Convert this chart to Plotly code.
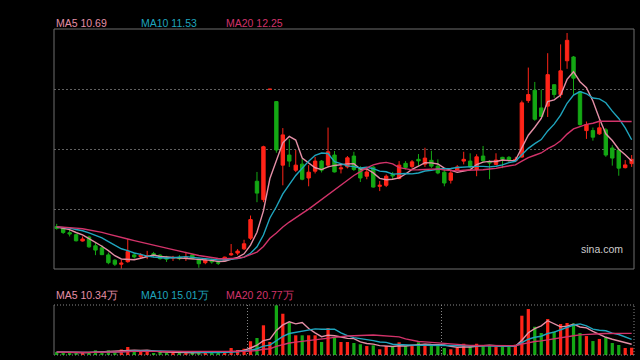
import plotly.graph_objects as go
import pandas as pd

# ---- data (price in CNY, volume in 万) ----
opens = [8.05, 7.98, 7.81, 7.73, 7.48, 7.64, 7.29, 7.21, 6.93, 6.72,
         6.56, 6.66, 6.93, 6.86, 6.86, 6.98, 6.92, 6.84, 6.81, 6.84,
         6.81, 6.93, 6.76, 6.62, 6.72, 6.62, 6.69, 6.93, 7.00, 7.17,
         7.59, 9.85, 9.12, 13.50, 13.01, 10.49, 10.89, 10.29, 10.53, 9.98,
         10.25, 10.65, 10.49, 10.89, 10.34, 10.42, 10.85, 10.36, 10.05, 10.41,
         9.65, 9.69, 10.12, 9.96, 10.56, 10.44, 10.72, 10.53, 10.68, 10.45,
         10.21, 9.89, 10.29, 10.65, 10.65, 10.32, 10.85, 10.62, 10.52, 10.80,
         10.80, 10.66, 10.81, 13.05, 13.46, 12.76, 12.83, 13.68, 13.29, 14.63,
         14.78, 13.40, 11.86, 11.86, 11.73, 11.89, 11.17, 11.09, 10.39, 10.55]
highs = [8.16, 8.02, 7.92, 7.76, 7.66, 7.69, 7.42, 7.32, 7.02, 6.76,
         6.73, 7.56, 7.02, 7.00, 7.09, 7.05, 6.96, 6.89, 6.89, 6.92,
         7.05, 6.97, 6.78, 6.78, 6.78, 6.69, 6.86, 7.36, 7.16, 7.53,
         8.49, 10.22, 11.26, 13.50, 13.03, 11.96, 11.52, 11.09, 10.73, 10.49,
         10.82, 10.69, 11.98, 11.05, 10.56, 10.85, 11.02, 10.45, 10.40, 10.45,
         9.86, 10.12, 10.22, 10.65, 10.65, 10.69, 10.93, 11.18, 11.06, 10.72,
         10.36, 10.26, 10.49, 11.02, 10.96, 10.92, 11.25, 10.69, 10.96, 10.82,
         10.85, 10.82, 13.05, 14.36, 13.79, 13.49, 14.93, 13.69, 15.28, 15.73,
         14.82, 13.42, 12.22, 11.98, 12.29, 11.96, 11.28, 11.11, 10.69, 10.89]
lows = [7.93, 7.76, 7.66, 7.46, 7.46, 7.21, 6.92, 6.92, 6.56, 6.49,
        6.38, 6.62, 6.78, 6.78, 6.76, 6.82, 6.74, 6.65, 6.69, 6.72,
        6.69, 6.76, 6.42, 6.56, 6.58, 6.53, 6.66, 6.89, 6.92, 7.12,
        7.52, 9.02, 9.02, 13.50, 10.98, 9.69, 10.42, 10.22, 9.89, 9.65,
        10.16, 10.20, 10.40, 10.20, 10.16, 10.36, 10.26, 9.82, 9.93, 9.60,
        9.46, 9.62, 9.92, 9.93, 10.32, 10.36, 10.45, 10.42, 10.38, 10.13,
        9.65, 9.76, 10.26, 10.52, 10.36, 10.05, 10.60, 9.93, 10.49, 10.37,
        10.62, 10.62, 10.79, 12.96, 12.25, 12.40, 12.40, 13.16, 13.16, 14.31,
        13.25, 12.05, 11.53, 11.46, 11.69, 10.82, 10.47, 10.07, 10.36, 10.42]
closes = [7.98, 7.82, 7.76, 7.49, 7.56, 7.25, 7.12, 6.94, 6.62, 6.56,
          6.60, 7.06, 6.85, 6.92, 6.89, 6.90, 6.78, 6.76, 6.82, 6.78,
          6.83, 6.78, 6.58, 6.73, 6.65, 6.60, 6.84, 6.97, 7.08, 7.37,
          8.33, 9.38, 11.22, 13.50, 11.09, 11.69, 10.65, 10.49, 9.93, 10.21,
          10.65, 10.29, 11.02, 10.22, 10.38, 10.78, 10.32, 9.98, 10.22, 9.62,
          9.69, 10.05, 10.06, 10.49, 10.40, 10.62, 10.66, 10.77, 10.45, 10.18,
          9.78, 10.18, 10.42, 10.72, 10.42, 10.82, 10.66, 10.58, 10.69, 10.72,
          10.69, 10.72, 12.96, 13.29, 12.31, 12.42, 14.08, 13.29, 14.23, 15.44,
          13.94, 12.10, 12.10, 11.60, 11.97, 10.89, 10.77, 10.37, 10.50, 10.72]
volumes = [2.9, 2.4, 1.9, 2.9, 1.9, 2.9, 4.5, 2.4, 4.5, 2.9,
           5.3, 7.7, 2.9, 3.6, 3.6, 1.9, 2.9, 1.9, 1.9, 1.9,
           2.9, 2.4, 3.4, 2.9, 1.9, 1.9, 2.9, 6.7, 4.8, 6.0,
           13.2, 16.3, 28.5, 12.5, 47.7, 39.6, 30.7, 18.9, 18.9, 18.9,
           18.9, 12.5, 25.9, 16.3, 12.5, 12.5, 11.5, 10.3, 8.6, 9.3,
           5.5, 8.6, 8.6, 12.2, 8.6, 8.6, 12.2, 10.8, 9.9, 8.6,
           6.7, 5.5, 6.7, 10.8, 8.4, 10.8, 8.6, 8.6, 7.7, 7.7,
           7.7, 9.9, 37.7, 44.1, 27.1, 21.1, 34.5, 22.6, 29.7, 30.7,
           30.3, 21.1, 18.2, 13.4, 15.4, 16.9, 11.5, 9.6, 6.7, 7.0]
prior_closes = [8.06, 8.04, 8.09, 8.05, 8.03, 8.07, 8.06, 8.02, 8.05, 8.08,
                8.04, 8.06, 8.03, 8.05, 8.07, 8.04, 8.06, 8.05, 8.04]
month_starts = [30, 60]
price_labels = ["MA5 10.69", "MA10 11.53", "MA20 12.25"]
volume_labels = ["MA5 10.34万", "MA10 15.01万", "MA20 20.77万"]

RED = "#ff2418"
GREEN = "#14a814"
MA_COLORS = ["#e48fa6", "#1fa5be", "#d2336a"]
MA_N = [5, 10, 20]

idx = list(range(len(closes)))
s = pd.Series(prior_closes + closes)
price_ma = [s.rolling(n, min_periods=1).mean().iloc[len(prior_closes):].tolist() for n in MA_N]
vs = pd.Series(volumes)
vol_ma = [vs.rolling(n, min_periods=1).mean().tolist() for n in MA_N]

bar_colors = []
for i, (o, c) in enumerate(zip(opens, closes)):
    prev = closes[i - 1] if i > 0 else c
    up = c > o or (c == o and c >= prev)
    bar_colors.append(RED if up else GREEN)

fig = go.Figure()
fig.add_trace(go.Candlestick(
    x=idx, open=opens, high=highs, low=lows, close=closes,
    increasing=dict(line=dict(color=RED, width=1), fillcolor=RED),
    decreasing=dict(line=dict(color=GREEN, width=1), fillcolor=GREEN),
    whiskerwidth=0, hoverinfo="skip", xaxis="x", yaxis="y"))
for vals, col in zip(price_ma, MA_COLORS):
    fig.add_trace(go.Scatter(x=idx, y=vals, mode="lines",
                             line=dict(color=col, width=1.4),
                             hoverinfo="skip", xaxis="x", yaxis="y"))
fig.add_trace(go.Bar(x=idx, y=volumes, marker=dict(color=bar_colors, line=dict(width=0)),
                     width=0.5, hoverinfo="skip", xaxis="x2", yaxis="y2"))
for vals, col in zip(vol_ma, MA_COLORS):
    fig.add_trace(go.Scatter(x=idx, y=vals, mode="lines",
                             line=dict(color=col, width=1.4),
                             hoverinfo="skip", xaxis="x2", yaxis="y2"))

L, R, T, B = 54, 6, 29, 5
W, H = 640, 360
pw, ph = W - L - R, H - T - B
def py(y):
    return (H - B - y) / ph
def px(x):
    return (x - L) / pw

xr = [-0.42, len(closes) - 1 + 0.36]
pmin, pmax = 6.37, 15.89
q = (pmax - pmin) / 4
fig.update_layout(
    width=W, height=H, margin=dict(l=L, r=R, t=T, b=B),
    paper_bgcolor="#000000", plot_bgcolor="#000000",
    showlegend=False, boxgap=0.25, bargap=0.5,
    font=dict(family="Liberation Sans, Arial, sans-serif", size=10.5),
    xaxis=dict(domain=[0, 1], range=xr, anchor="y", showticklabels=False,
               showgrid=False, zeroline=False, rangeslider=dict(visible=False),
               fixedrange=True),
    yaxis=dict(domain=[py(269), 1], range=[pmin, pmax], showticklabels=False,
               tickvals=[pmin + q, pmin + 2 * q, pmin + 3 * q],
               showgrid=True, gridcolor="#606060", griddash="2px,2px", gridwidth=1,
               zeroline=False, fixedrange=True),
    xaxis2=dict(domain=[0, 1], range=xr, anchor="y2", showticklabels=False,
                tickvals=[m - 0.5 for m in month_starts],
                showgrid=True, gridcolor="#888888", griddash="1px,2px", gridwidth=1,
                zeroline=False, fixedrange=True),
    yaxis2=dict(domain=[0, py(305)], range=[0, max(volumes) * 1.006],
                showticklabels=False, showgrid=False, zeroline=False, fixedrange=True),
)

shapes = [
    dict(type="rect", xref="paper", yref="paper", x0=0, x1=1, y0=py(269), y1=1,
         line=dict(color="#6e6e6e", width=1), layer="above"),
    dict(type="line", xref="paper", yref="paper", x0=0, x1=1, y0=py(305), y1=py(305),
         line=dict(color="#888888", width=1, dash="1px,2px")),
    dict(type="line", xref="paper", yref="paper", x0=0, x1=1, y0=0, y1=0,
         line=dict(color="#888888", width=1, dash="1px,2px")),
    dict(type="line", xref="paper", yref="paper", x0=1, x1=1, y0=0, y1=py(305),
         line=dict(color="#888888", width=1, dash="1px,2px")),
    dict(type="line", xref="paper", yref="paper", x0=0, x1=0, y0=0, y1=py(305),
         line=dict(color="#6e6e6e", width=1)),
]
fig.update_layout(shapes=shapes)

label_x = [54, 139, 224]
ann = []
for txt, col, lx in zip(price_labels, MA_COLORS, label_x):
    ann.append(dict(text=txt, x=px(lx), y=py(23), xref="paper", yref="paper",
                    xanchor="left", yanchor="middle", showarrow=False,
                    font=dict(color=col, size=10.5)))
for txt, col, lx in zip(volume_labels, MA_COLORS, label_x):
    ann.append(dict(text=txt, x=px(lx), y=py(295), xref="paper", yref="paper",
                    xanchor="left", yanchor="middle", showarrow=False,
                    font=dict(color=col, size=10.5)))
ann.append(dict(text="sina.com", x=px(625), y=py(249), xref="paper", yref="paper",
                xanchor="right", yanchor="middle", showarrow=False,
                font=dict(color="#cccccc", size=10.5)))
fig.update_layout(annotations=ann)

fig.write_html("out.html", config={"displayModeBar": False},
               post_script="document.body.style.margin='0';document.body.style.background='#000';")
